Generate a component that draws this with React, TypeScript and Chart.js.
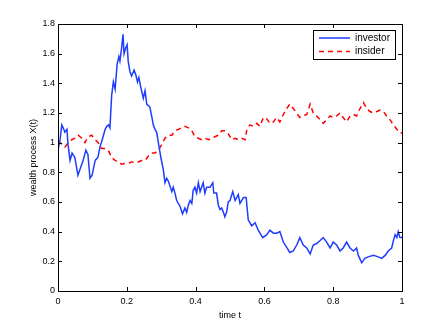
import { useEffect, useRef } from "react";
import { Chart, registerables } from "chart.js";
Chart.register(...registerables);

const seriesLabels = ["investor", "insider"];
const xTicks = [0, 0.2, 0.4, 0.6, 0.8, 1];
const yTicks = [0, 0.2, 0.4, 0.6, 0.8, 1, 1.2, 1.4, 1.6, 1.8];

const investorT = [
  0, 0.006, 0.011, 0.015, 0.02, 0.026, 0.029, 0.035, 0.041, 0.049, 0.058, 0.064, 0.073, 0.081, 0.087,
  0.093, 0.099, 0.108, 0.116, 0.122, 0.131, 0.137, 0.142, 0.147, 0.151, 0.156, 0.161, 0.166, 0.172,
  0.177, 0.18, 0.185, 0.189, 0.192, 0.197, 0.201, 0.204, 0.209, 0.214, 0.221, 0.226, 0.231, 0.235,
  0.24, 0.248, 0.253, 0.258, 0.267, 0.273, 0.277, 0.282, 0.287, 0.291, 0.299, 0.306, 0.311, 0.316,
  0.321, 0.331, 0.335, 0.34, 0.345, 0.355, 0.362, 0.369, 0.374, 0.379, 0.384, 0.389, 0.393, 0.398,
  0.403, 0.408, 0.413, 0.422, 0.427, 0.432, 0.442, 0.45, 0.453, 0.461, 0.466, 0.471, 0.476, 0.481,
  0.485, 0.49, 0.495, 0.5, 0.508, 0.515, 0.524, 0.529, 0.539, 0.547, 0.553, 0.563, 0.573, 0.582,
  0.595, 0.607, 0.616, 0.626, 0.636, 0.645, 0.655, 0.674, 0.684, 0.694, 0.703, 0.713, 0.723, 0.733,
  0.742, 0.752, 0.762, 0.771, 0.781, 0.791, 0.8, 0.81, 0.82, 0.829, 0.839, 0.849, 0.859, 0.868,
  0.873, 0.883, 0.892, 0.902, 0.917, 0.931, 0.941, 0.951, 0.96, 0.97, 0.975, 0.98, 0.985, 0.989,
  0.994, 1,
];
const investorX = [
  0.95, 1.02, 1.12, 1.1, 1.07, 1.09, 0.99, 0.88, 0.93, 0.9, 0.78, 0.82, 0.88, 0.95, 0.92,
  0.76, 0.78, 0.88, 0.9, 0.97, 1.04, 1.09, 1.11, 1.12, 1.1, 1.32, 1.41, 1.36, 1.53,
  1.58, 1.55, 1.64, 1.73, 1.6, 1.64, 1.66, 1.55, 1.48, 1.45, 1.49, 1.46, 1.41, 1.44,
  1.38, 1.3, 1.35, 1.26, 1.24, 1.17, 1.12, 1.09, 1.07, 1.01, 0.9, 0.82, 0.73, 0.76,
  0.74, 0.67, 0.7, 0.66, 0.61, 0.57, 0.52, 0.56, 0.53, 0.58, 0.61, 0.59, 0.68, 0.7,
  0.66, 0.73, 0.67, 0.73, 0.66, 0.7, 0.7, 0.73, 0.66, 0.66, 0.58, 0.55, 0.56, 0.53,
  0.5, 0.53, 0.6, 0.61, 0.67, 0.61, 0.65, 0.59, 0.63, 0.63, 0.48, 0.44, 0.46, 0.41,
  0.36, 0.38, 0.41, 0.39, 0.39, 0.4, 0.33, 0.26, 0.27, 0.31, 0.36, 0.31, 0.29, 0.25,
  0.31, 0.32, 0.34, 0.36, 0.33, 0.29, 0.33, 0.31, 0.27, 0.29, 0.33, 0.29, 0.27, 0.29,
  0.24, 0.19, 0.22, 0.23, 0.24, 0.23, 0.22, 0.24, 0.27, 0.29, 0.34, 0.38, 0.36, 0.4,
  0.36, 0.36,
];

const insiderT = [
  0, 0.011, 0.02, 0.03, 0.04, 0.049, 0.059, 0.069, 0.078, 0.088, 0.098, 0.108, 0.117, 0.127, 0.137,
  0.146, 0.156, 0.166, 0.175, 0.185, 0.195, 0.204, 0.214, 0.224, 0.233, 0.243, 0.253, 0.263, 0.272,
  0.282, 0.292, 0.301, 0.311, 0.321, 0.331, 0.34, 0.35, 0.36, 0.369, 0.379, 0.389, 0.398, 0.408,
  0.418, 0.427, 0.437, 0.447, 0.456, 0.466, 0.476, 0.485, 0.495, 0.505, 0.515, 0.524, 0.534, 0.544,
  0.549, 0.558, 0.568, 0.578, 0.587, 0.597, 0.607, 0.616, 0.626, 0.636, 0.645, 0.655, 0.665, 0.674,
  0.684, 0.694, 0.703, 0.713, 0.723, 0.733, 0.742, 0.752, 0.762, 0.771, 0.781, 0.791, 0.8, 0.81,
  0.82, 0.829, 0.839, 0.849, 0.859, 0.868, 0.878, 0.888, 0.897, 0.907, 0.917, 0.927, 0.936, 0.946,
  0.955, 0.965, 0.975, 0.985, 0.994, 1,
];
const insiderX = [
  1.01, 0.99, 0.97, 1.0, 1.02, 1.03, 1.05, 1.03, 1.0, 1.04, 1.05, 1.02, 1.0, 0.96, 0.96,
  0.95, 0.9, 0.88, 0.87, 0.855, 0.86, 0.86, 0.87, 0.87, 0.87, 0.88, 0.88, 0.91, 0.93,
  0.93, 0.95, 0.985, 1.03, 1.05, 1.05, 1.08, 1.09, 1.1, 1.11, 1.1, 1.08, 1.04, 1.03,
  1.02, 1.03, 1.02, 1.03, 1.04, 1.05, 1.08, 1.08, 1.06, 1.02, 1.03, 1.02, 1.03, 1.02,
  1.09, 1.12, 1.11, 1.13, 1.11, 1.17, 1.16, 1.13, 1.14, 1.17, 1.14, 1.19, 1.23, 1.26,
  1.23, 1.2, 1.17, 1.18, 1.19, 1.26, 1.2, 1.18, 1.155, 1.13, 1.155, 1.18, 1.17, 1.18,
  1.2, 1.17, 1.14, 1.18, 1.19, 1.18, 1.23, 1.27, 1.23, 1.21, 1.2, 1.21, 1.22, 1.21,
  1.18, 1.155, 1.12, 1.09, 1.065, 1.065,
];

const FONT = "'Liberation Sans', Arial, Helvetica, sans-serif";

const framePlugin = {
  id: "matlabFrame",
  afterDatasetsDraw(chart: any) {
    const { ctx, chartArea } = chart;
    const { left, right, top, bottom } = chartArea;
    const xs = chart.scales.x;
    const ys = chart.scales.y;
    ctx.save();
    ctx.strokeStyle = "#000";
    ctx.lineWidth = 1;
    ctx.strokeRect(left + 0.5, top + 0.5, right - left, bottom - top);
    ctx.beginPath();
    const tl = 4;
    xTicks.forEach((v) => {
      const px = Math.round(xs.getPixelForValue(v)) + 0.5;
      ctx.moveTo(px, bottom);
      ctx.lineTo(px, bottom - tl);
      ctx.moveTo(px, top);
      ctx.lineTo(px, top + tl);
    });
    yTicks.forEach((v) => {
      const py = Math.round(ys.getPixelForValue(v)) + 0.5;
      ctx.moveTo(left, py);
      ctx.lineTo(left + tl, py);
      ctx.moveTo(right, py);
      ctx.lineTo(right - tl, py);
    });
    ctx.stroke();

    // legend
    const bx = 313, by = 30, bw = 82, bh = 29;
    ctx.fillStyle = "#fff";
    ctx.fillRect(bx, by, bw, bh);
    ctx.strokeRect(bx + 0.5, by + 0.5, bw, bh);
    ctx.font = `10px ${FONT}`;
    ctx.textBaseline = "middle";
    chart.data.datasets.forEach((ds: any, i: number) => {
      const ly = by + 8 + i * 13.5;
      ctx.beginPath();
      ctx.strokeStyle = ds.borderColor;
      ctx.lineWidth = ds.borderWidth;
      ctx.setLineDash(ds.borderDash || []);
      ctx.moveTo(bx + 6, ly);
      ctx.lineTo(bx + 37, ly);
      ctx.stroke();
      ctx.setLineDash([]);
      ctx.fillStyle = "#000";
      ctx.fillText(ds.label, bx + 42, ly);
    });
    ctx.restore();
  },
};

export default function App() {
  const ref = useRef<HTMLCanvasElement>(null);
  useEffect(() => {
    document.body.style.margin = "0";
    const canvas = ref.current;
    if (!canvas) return;
    const chart = new Chart(canvas, {
      type: "line",
      data: {
        datasets: [
          {
            label: seriesLabels[0],
            data: investorT.map((t, i) => ({ x: t, y: investorX[i] })),
            borderColor: "#1f3dff",
            borderWidth: 1.5,
            pointRadius: 0,
            tension: 0,
            fill: false,
          },
          {
            label: seriesLabels[1],
            data: insiderT.map((t, i) => ({ x: t, y: insiderX[i] })),
            borderColor: "#ff0000",
            borderWidth: 1.5,
            borderDash: [5, 4],
            pointRadius: 0,
            tension: 0,
            fill: false,
          },
        ],
      },
      options: {
        animation: false,
        responsive: false,
        devicePixelRatio: 1,
        layout: { padding: { left: 0, top: 24, right: 42, bottom: 0 } },
        plugins: { legend: { display: false }, tooltip: { enabled: false } },
        scales: {
          x: {
            type: "linear",
            min: 0,
            max: 1,
            grid: { display: false, drawTicks: false },
            border: { display: false },
            afterBuildTicks: (s: any) => {
              s.ticks = xTicks.map((v) => ({ value: v }));
            },
            afterFit: (s: any) => {
              s.height = 36;
            },
            ticks: {
              padding: 5,
              color: "#000",
              font: { family: FONT, size: 9 },
              callback: (v: any) => String(+Number(v).toFixed(1)),
              maxRotation: 0,
            },
            title: {
              display: true,
              text: "time t",
              color: "#000",
              font: { family: FONT, size: 9 },
              padding: { top: 0, bottom: 6 },
            },
          },
          y: {
            type: "linear",
            min: 0,
            max: 1.8,
            grid: { display: false, drawTicks: false },
            border: { display: false },
            afterBuildTicks: (s: any) => {
              s.ticks = yTicks.map((v) => ({ value: v }));
            },
            afterFit: (s: any) => {
              s.width = 58;
            },
            ticks: {
              padding: 3,
              color: "#000",
              font: { family: FONT, size: 9 },
              callback: (v: any) => String(+Number(v).toFixed(1)),
            },
            title: {
              display: true,
              text: "wealth process X(t)",
              color: "#000",
              font: { family: FONT, size: 9 },
              padding: { top: 28, bottom: 0 },
            },
          },
        },
      },
      plugins: [framePlugin],
    });
    return () => chart.destroy();
  }, []);
  return (
    <div style={{ position: "absolute", left: 0, top: 0, width: 444, height: 327, background: "#fff" }}>
      <canvas ref={ref} width={444} height={327} />
    </div>
  );
}
